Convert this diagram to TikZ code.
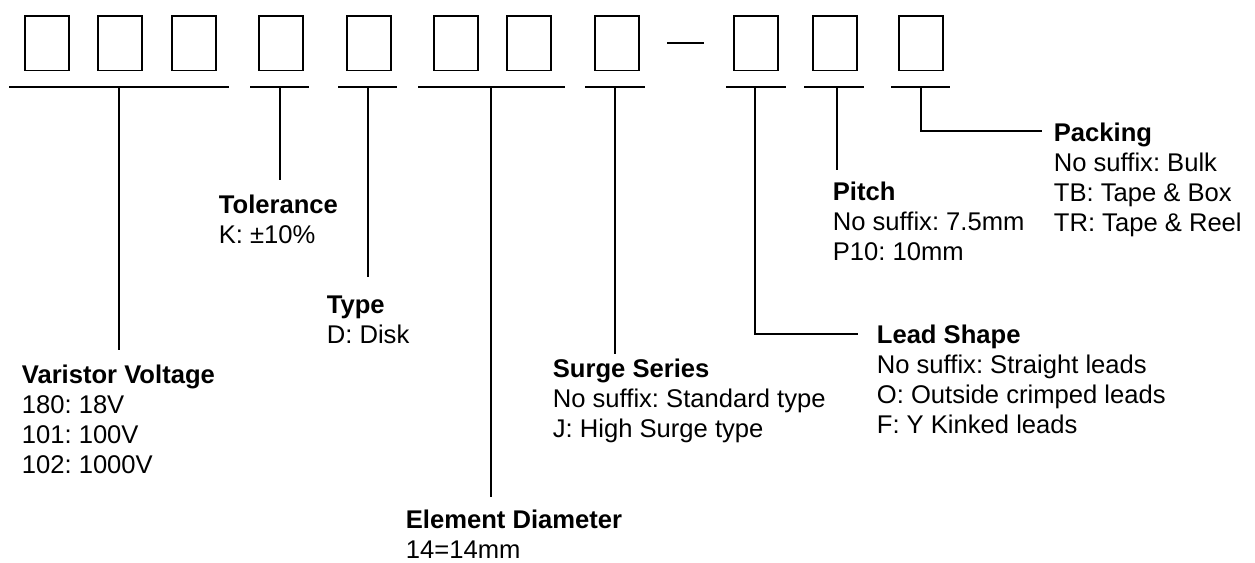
\documentclass[tikz,border=0pt]{standalone}
\usepackage{fontspec}
\setmainfont{Liberation Sans}
\frenchspacing
\begin{document}
\begin{tikzpicture}[x=0.75pt, y=-0.75pt, line width=1.3pt,
    cell/.style={draw, line width=1.2pt, minimum width=33pt, minimum height=41pt, inner sep=0pt, anchor=north west},
    lbl/.style={anchor=base west, align=left, inner sep=0pt, font=\fontsize{19.2}{22.5}\selectfont}]
      \useasboundingbox (0,0) rectangle (1255,563);
      % code boxes
      \foreach \x [count=\i] in {24,97,171,258,346,433,506,594,733,812,898}
        \node[cell] (b\i) at (\x,15) {};
      \coordinate (d1) at (667,43);
      \coordinate (d2) at (704,43);
      \draw (d1) -- (d2);
      % underlines and stems
      \foreach \l/\r/\m/\e [count=\i] in {9/229/119/350, 250/309/280/180, 338/397/368/277, 418/565/491/497,
          585/645/615/354, 726/786/755/334, 804/864/837/170, 891/950/921/131} {
        \coordinate (u\i) at (\m,87);
        \coordinate (e\i) at (\m,\e);
        \draw (\l,87) -- (\r,87);
      }
      \foreach \i in {1,2,3,4,5,7}
        \draw (u\i) -- (e\i);
      \coordinate (lt) at (858,334);
      \coordinate (pt) at (1042,131);
      \draw (u6) |- (lt);
      \draw (u8) |- (pt);
      % labels (placed at the baseline of their last line)
      \node[lbl] (volt) at (21,473) {\textbf{Varistor Voltage}\\180: 18V\\101: 100V\\102: 1000V};
      \node[lbl] (tol) at (218,243) {\textbf{Tolerance}\\K: ±10\%};
      \node[lbl] (typ) at (326,343) {\textbf{Type}\\D: Disk};
      \node[lbl] (dia) at (405,558) {\textbf{Element Diameter}\\14=14mm};
      \node[lbl] (srg) at (552,437) {\textbf{Surge Series}\\No suffix: Standard type\\J: High Surge type};
      \node[lbl] (lead) at (876,433) {\textbf{Lead Shape}\\No suffix: Straight leads\\O: Outside crimped leads\\F: Y Kinked leads};
      \node[lbl] (pitch) at (832,260) {\textbf{Pitch}\\No suffix: 7.5mm\\P10: 10mm};
      \node[lbl] (pack) at (1053,231) {\textbf{Packing}\\No suffix: Bulk\\TB: Tape \& Box\\TR: Tape \& Reel};
    \end{tikzpicture}
\end{document}
